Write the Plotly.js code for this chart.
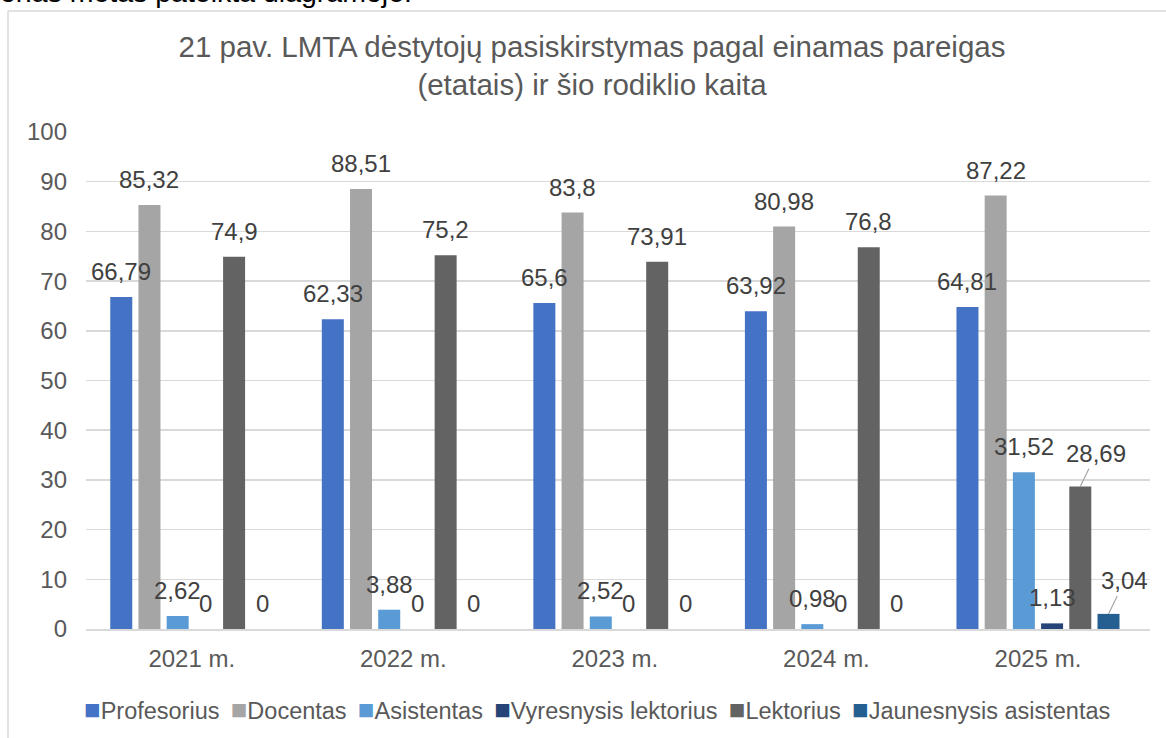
<!DOCTYPE html>
<html>
<head>
<meta charset="utf-8">
<script src="https://cdn.plot.ly/plotly-3.0.1.min.js"></script>
<style>
  html, body { margin: 0; padding: 0; background: #ffffff; overflow: hidden; }
  #chart { width: 1166px; height: 738px; }
</style>
</head>
<body>
<div id="chart"></div>
<script>
// ---- data ----
const categories = ['2021 m.', '2022 m.', '2023 m.', '2024 m.', '2025 m.'];
const seriesNames = ['Profesorius', 'Docentas', 'Asistentas', 'Vyresnysis lektorius', 'Lektorius', 'Jaunesnysis asistentas'];
const profesorius = [66.79, 62.33, 65.6, 63.92, 64.81];
const docentas = [85.32, 88.51, 83.8, 80.98, 87.22];
const asistentas = [2.62, 3.88, 2.52, 0.98, 31.52];
const vyresnysisLektorius = [0, 0, 0, 0, 1.13];
const lektorius = [74.9, 75.2, 73.91, 76.8, 28.69];
const jaunesnysisAsistentas = [0, 0, 0, 0, 3.04];
const yTicks = [0, 10, 20, 30, 40, 50, 60, 70, 80, 90, 100];
const titleText = '21 pav. LMTA dėstytojų pasiskirstymas pagal einamas pareigas<br>(etatais) ir šio rodiklio kaita';
const topText = 'onas metas pateikta diagramoje.';

// ---- styling ----
const allSeries = [profesorius, docentas, asistentas, vyresnysisLektorius, lektorius, jaunesnysisAsistentas];
const colors = ['#4472C4', '#A5A5A5', '#5B9BD5', '#264478', '#636363', '#255E91'];
const FONT = '"Liberation Sans", Arial, sans-serif';
const W = 1166, H = 738;
const M = { l: 86, r: 16, t: 132, b: 109 };
const plotW = W - M.l - M.r, plotH = H - M.t - M.b;
const px2x = p => (p - M.l) / plotW;
const py2y = p => (H - M.b - p) / plotH;
const BARGAP = 0.2, BARGROUPGAP = 0.22;
const nS = allSeries.length;
const slot = (1 - BARGAP) / nS;
// labels that Excel moved aside with a leader line: [series index, category index]
const leaderLabels = [[4, 4], [5, 4]];

const fmt = v => String(v).replace('.', ',');

const traces = allSeries.map((vals, i) => ({
  type: 'bar',
  name: seriesNames[i],
  x: categories,
  y: vals,
  marker: { color: colors[i], line: { width: 0 } },
  hoverinfo: 'skip',
  showlegend: false
}));

const annotations = [];
allSeries.forEach((vals, i) => {
  vals.forEach((v, j) => {
    const isLeader = leaderLabels.some(p => p[0] === i && p[1] === j);
    const a = {
      xref: 'x', yref: 'y',
      x: j + (i - (nS - 1) / 2) * slot,
      y: v,
      text: fmt(v),
      font: { family: FONT, size: 24, color: '#404040' },
      xanchor: 'center'
    };
    if (isLeader) {
      Object.assign(a, {
        showarrow: true, arrowhead: 0, arrowwidth: 1.2, arrowcolor: '#A6A6A6',
        standoff: 0, ax: 16, ay: -33, yanchor: 'middle'
      });
    } else {
      Object.assign(a, { showarrow: false, yanchor: 'bottom', yshift: 10 });
    }
    annotations.push(a);
  });
});

// legend line (coloured squares + series names)
const legendText = seriesNames
  .map((n, i) => '<span style="color:' + colors[i] + ';font-size:27.5px">\u25A0</span>' + n)
  .join(' \u2009');
annotations.push({
  xref: 'paper', yref: 'paper',
  x: px2x(597), y: py2y(709), xanchor: 'center', yanchor: 'middle',
  text: legendText, showarrow: false,
  font: { family: FONT, size: 23.5, color: '#595959' }
});

// cut-off body text above the chart frame
annotations.push({
  xref: 'paper', yref: 'paper',
  x: px2x(-2), y: py2y(10), xanchor: 'left', yanchor: 'bottom',
  text: topText, showarrow: false,
  font: { family: FONT, size: 28.5, color: '#000000' }
});

const shapes = [
  { type: 'line', xref: 'paper', yref: 'paper', x0: px2x(8), x1: px2x(1170), y0: py2y(11), y1: py2y(11),
    line: { color: '#D9D9D9', width: 1.5 } },
  { type: 'line', xref: 'paper', yref: 'paper', x0: px2x(8), x1: px2x(8), y0: py2y(11), y1: py2y(745),
    line: { color: '#D9D9D9', width: 1.5 } }
];

const layout = {
  width: W, height: H, autosize: false,
  margin: M,
  paper_bgcolor: '#ffffff', plot_bgcolor: '#ffffff',
  font: { family: FONT, color: '#595959' },
  title: {
    text: titleText,
    font: { family: FONT, size: 29.5, color: '#595959' },
    xref: 'paper', x: px2x(592), xanchor: 'center',
    yref: 'container', y: 1 - 57 / H, yanchor: 'top'
  },
  barmode: 'group',
  bargap: BARGAP,
  bargroupgap: BARGROUPGAP,
  showlegend: false,
  xaxis: {
    type: 'category',
    tickfont: { family: FONT, size: 24, color: '#595959' },
    ticks: '',
    showline: true, linecolor: '#D9D9D9', linewidth: 1.5,
    showgrid: false, zeroline: false,
    ticklabelstandoff: 8,
    fixedrange: true
  },
  yaxis: {
    range: [0, 100],
    tickvals: yTicks,
    tickfont: { family: FONT, size: 24, color: '#595959' },
    ticks: '',
    showgrid: true, gridcolor: '#D9D9D9', gridwidth: 1.5,
    zeroline: false, showline: false,
    ticklabelstandoff: 18,
    fixedrange: true
  },
  annotations: annotations,
  shapes: shapes
};

Plotly.newPlot('chart', traces, layout, { staticPlot: true, displayModeBar: false });
</script>
</body>
</html>
